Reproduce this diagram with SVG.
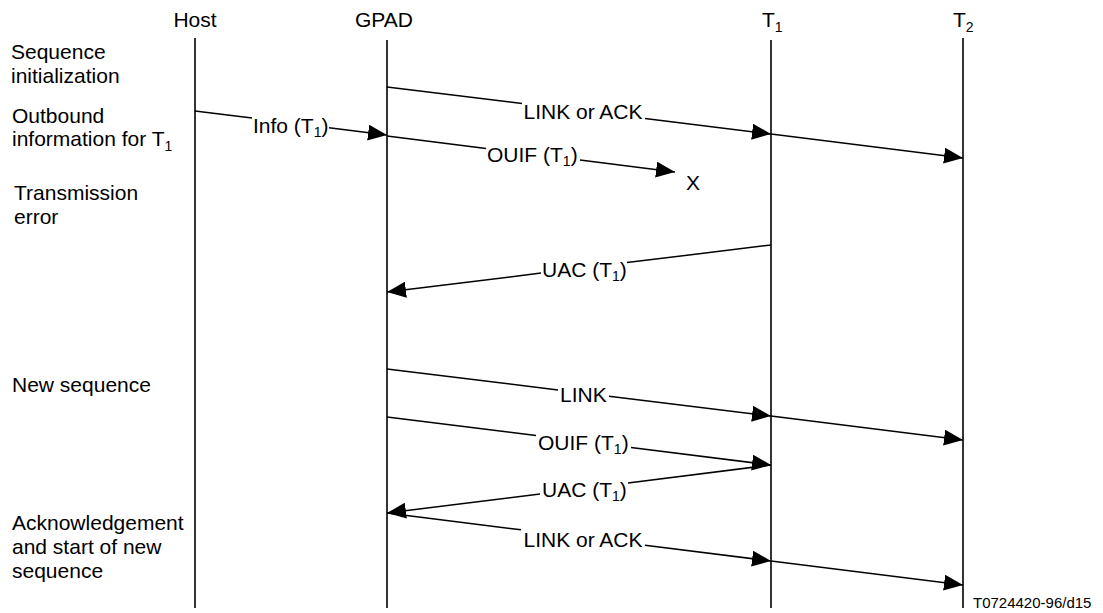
<svg xmlns="http://www.w3.org/2000/svg" width="1103" height="613" viewBox="0 0 1103 613">
<style>
text{font-family:"Liberation Sans",Arial,sans-serif;font-size:21px;fill:#000}
.life{stroke:#000;stroke-width:1.6;fill:none}
.msg{stroke:#000;stroke-width:1.5;fill:none}
.sub{font-size:14px}
.foot{font-size:15px}
</style>
<defs>
<marker id="ah" markerUnits="userSpaceOnUse" markerWidth="19" markerHeight="16" refX="19" refY="8" orient="auto">
<path d="M0,0 L19,8 L0,16 Z" fill="#000"/>
</marker>
</defs>
<rect width="1103" height="613" fill="#fff"/>
<g id="host">
<text x="195" y="27" text-anchor="middle">Host</text>
<line class="life" x1="195" y1="38" x2="195" y2="608"/>
</g>
<g id="gpad">
<text x="384" y="27" text-anchor="middle">GPAD</text>
<line class="life" x1="387" y1="40" x2="387" y2="608"/>
</g>
<g id="t1">
<text x="762" y="27">T<tspan class="sub" dy="5">1</tspan></text>
<line class="life" x1="771" y1="40" x2="771" y2="608"/>
</g>
<g id="t2">
<text x="953" y="27">T<tspan class="sub" dy="5">2</tspan></text>
<line class="life" x1="963" y1="38" x2="963" y2="608"/>
</g>
<g id="phases">
<text x="11" y="59">Sequence</text>
<text x="11" y="83">initialization</text>
<text x="12" y="123">Outbound</text>
<text x="12" y="146">information for T<tspan class="sub" dy="5">1</tspan></text>
<text x="14" y="200">Transmission</text>
<text x="14" y="224">error</text>
<text x="12" y="392">New sequence</text>
<text x="12" y="530">Acknowledgement</text>
<text x="12" y="554">and start of new</text>
<text x="12" y="578">sequence</text>
</g>
<g id="connectors">
<polyline class="msg" points="387,87 522,103.5"/>
<polyline class="msg" points="645,118.6 771,134" marker-end="url(#ah)"/>
<polyline class="msg" points="771,134 963,158" marker-end="url(#ah)"/>
<polyline class="msg" points="195,111 252,118.1"/>
<polyline class="msg" points="329,127.8 387,135" marker-end="url(#ah)"/>
<polyline class="msg" points="387,136 486,148.4"/>
<polyline class="msg" points="580,160.1 675,172" marker-end="url(#ah)"/>
<polyline class="msg" points="771,245 627,262.6"/>
<polyline class="msg" points="541,273.1 387,292" marker-end="url(#ah)"/>
<polyline class="msg" points="387,369 558,390"/>
<polyline class="msg" points="609,396.3 771,416" marker-end="url(#ah)"/>
<polyline class="msg" points="771,416 963,440" marker-end="url(#ah)"/>
<polyline class="msg" points="387,417 536,435.6"/>
<polyline class="msg" points="631,447.5 771,465" marker-end="url(#ah)"/>
<polyline class="msg" points="771,465 628,482.9"/>
<polyline class="msg" points="540,493.9 387,513" marker-end="url(#ah)"/>
<polyline class="msg" points="387,513 521,529.8"/>
<polyline class="msg" points="645,545.3 771,561" marker-end="url(#ah)"/>
<polyline class="msg" points="771,561 963,585" marker-end="url(#ah)"/>
</g>
<g id="labels">
<text x="583" y="119" text-anchor="middle">LINK or ACK</text>
<text x="253" y="133">Info (T<tspan class="sub" dy="4">1</tspan><tspan dy="-4">)</tspan></text>
<text x="487" y="162">OUIF (T<tspan class="sub" dy="4">1</tspan><tspan dy="-4">)</tspan></text>
<text x="686" y="190">X</text>
<text x="542" y="277">UAC (T<tspan class="sub" dy="4">1</tspan><tspan dy="-4">)</tspan></text>
<text x="560" y="402">LINK</text>
<text x="538" y="450">OUIF (T<tspan class="sub" dy="4">1</tspan><tspan dy="-4">)</tspan></text>
<text x="542" y="497">UAC (T<tspan class="sub" dy="4">1</tspan><tspan dy="-4">)</tspan></text>
<text x="583" y="547" text-anchor="middle">LINK or ACK</text>
<text class="foot" x="973" y="608">T0724420-96/d15</text>
</g>
</svg>
